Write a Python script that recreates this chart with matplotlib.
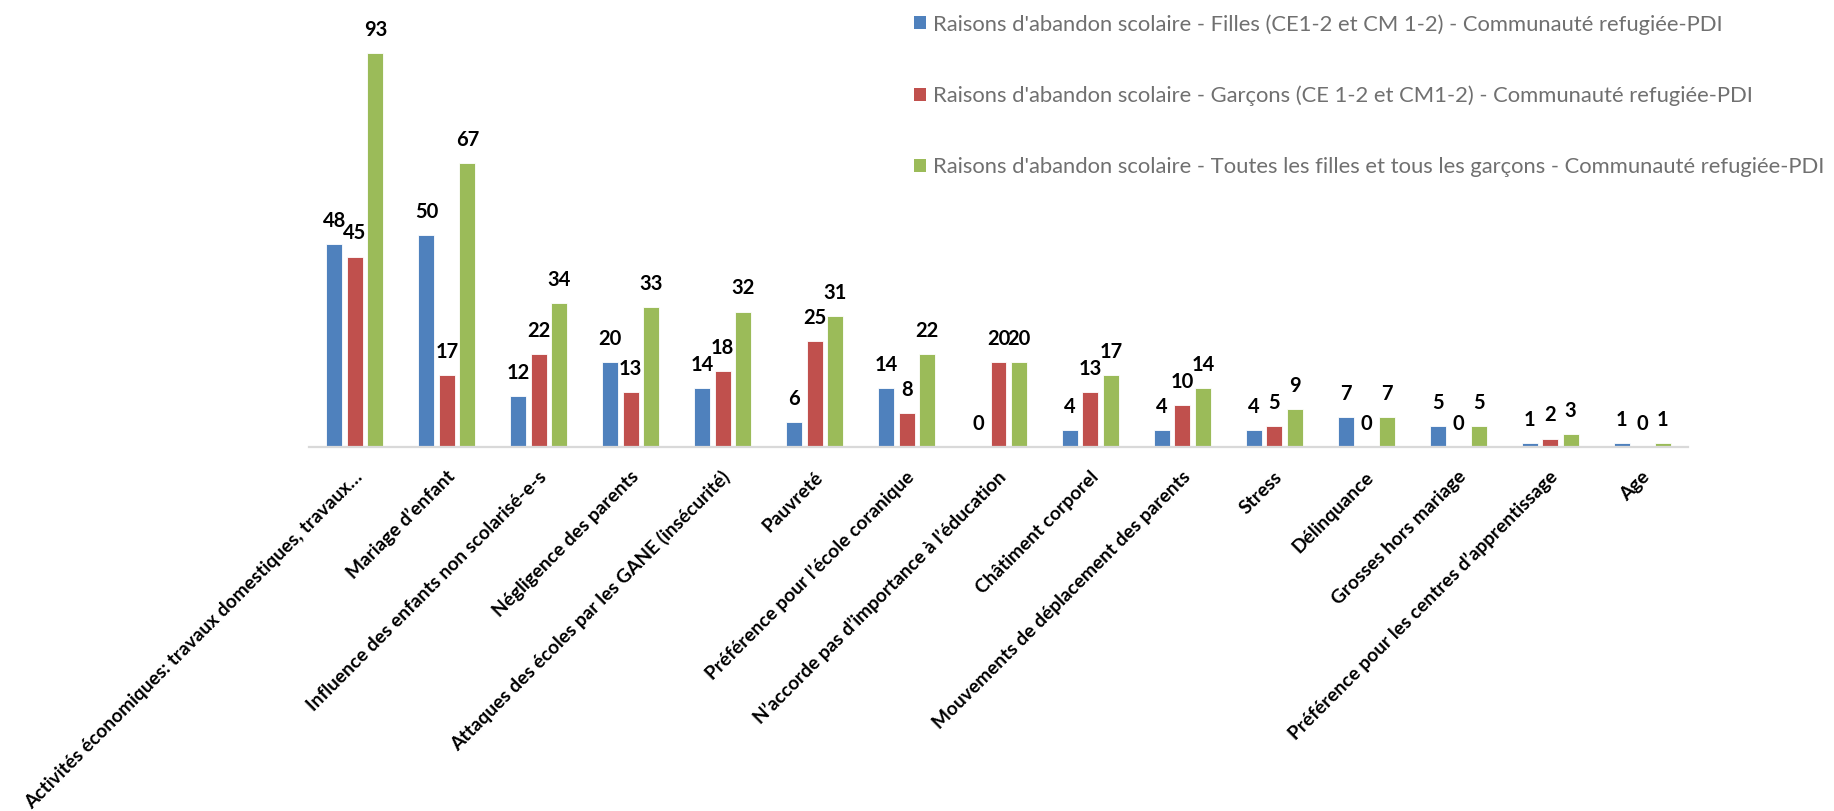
import matplotlib
matplotlib.use("Agg")
import matplotlib.pyplot as plt
import numpy as np
from matplotlib.transforms import ScaledTranslation
from matplotlib.patches import Patch

plt.rcParams['font.family'] = ['Lato', 'DejaVu Sans']

categories = [
    "Activités économiques: travaux domestiques, travaux…",
    "Mariage d’enfant",
    "Influence des enfants non scolarisé-e-s",
    "Négligence des parents",
    "Attaques des écoles par les GANE (insécurité)",
    "Pauvreté",
    "Préférence pour l’école coranique",
    "N’accorde pas d’importance à l’éducation",
    "Châtiment corporel",
    "Mouvements de déplacement des parents",
    "Stress",
    "Délinquance",
    "Grosses hors mariage",
    "Préférence pour les centres d’apprentissage",
    "Age",
]

filles = [48, 50, 12, 20, 14, 6, 14, 0, 4, 4, 4, 7, 5, 1, 1]
garcons = [45, 17, 22, 13, 18, 25, 8, 20, 13, 10, 5, 0, 0, 2, 0]
total = [93, 67, 34, 33, 32, 31, 22, 20, 17, 14, 9, 7, 5, 3, 1]

series_labels = [
    "Raisons d'abandon scolaire - Filles (CE1-2 et CM 1-2) - Communauté refugiée-PDI",
    "Raisons d'abandon scolaire - Garçons (CE 1-2 et CM1-2) - Communauté refugiée-PDI",
    "Raisons d'abandon scolaire - Toutes les filles et tous les garçons - Communauté refugiée-PDI",
]
colors = ["#4F81BD", "#C0504D", "#9BBB59"]

W, H = 1834, 811
fig = plt.figure(figsize=(W / 100, H / 100), dpi=100)
ax_left, ax_right = 309 / W, 1688 / W
ax_bottom = 1 - 447 / H
ax_top = 1 - (447 - 100 * 4.233) / H
ax = fig.add_axes([ax_left, ax_bottom, ax_right - ax_left, ax_top - ax_bottom])

x = np.arange(len(categories))
bw = 0.174
step = 0.223
for i, (vals, col) in enumerate(zip([filles, garcons, total], colors)):
    pos = x + (i - 1) * step
    ax.bar(pos, vals, width=bw, color=col, edgecolor="white", linewidth=0.6, zorder=2)
    for xp, v in zip(pos, vals):
        ax.annotate(f"{v}", (xp, v), xytext=(0, 12.3), textcoords="offset points",
                    ha="center", va="baseline", fontsize=14.5, fontweight="bold",
                    color="black")

ax.set_xlim(-0.5, len(categories) - 0.5)
ax.set_ylim(0, 100)
for s in ["top", "right", "left"]:
    ax.spines[s].set_visible(False)
ax.spines["bottom"].set_color("#d9d9d9")
ax.spines["bottom"].set_linewidth(1.6)
ax.set_yticks([])
ax.set_xticks(x)
ax.set_xticklabels(categories, rotation=45, ha="right", va="baseline",
                   rotation_mode="anchor", fontsize=13.8, fontweight="bold")
ax.tick_params(axis="x", length=0, pad=0)
shift = ScaledTranslation(0.09, -0.31, fig.dpi_scale_trans)
for lab in ax.get_xticklabels():
    lab.set_transform(lab.get_transform() + shift)

handles = [Patch(facecolor=c, edgecolor="none") for c in colors]
fig.legend(handles, series_labels, loc="upper left",
           bbox_to_anchor=(914 / W, 1 - 14 / H), frameon=False,
           fontsize=15.8, labelcolor="#707070",
           handlelength=0.55, handleheight=0.55, handletextpad=0.3,
           labelspacing=2.33, borderpad=0, borderaxespad=0)

fig.savefig("out.png", dpi=100, facecolor="white")
